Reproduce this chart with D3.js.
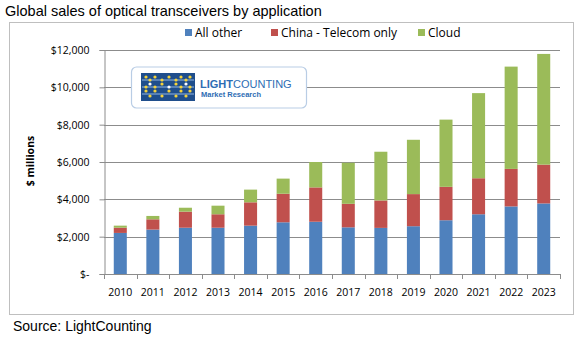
<!DOCTYPE html>
<html>
<head>
<meta charset="utf-8">
<script src="https://cdn.jsdelivr.net/npm/d3@7"></script>
<style>
  body { margin: 0; background: #fff; }
  svg { display: block; }
</style>
</head>
<body>
<svg id="chart" width="579" height="338"></svg>
<script>
const years = ['2010', '2011', '2012', '2013', '2014', '2015', '2016',
  '2017', '2018', '2019', '2020', '2021', '2022', '2023'];
const allOther = [2200, 2380, 2480, 2480, 2590, 2770, 2800, 2500, 2470, 2560, 2880, 3200, 3620, 3780];
const chinaTelecom = [280, 550, 860, 720, 1250, 1530, 1840, 1260, 1470, 1720, 1790, 1930, 2010, 2080];
const cloud = [110, 180, 210, 460, 680, 810, 1360, 2200, 2610, 2910, 3600, 4560, 5480, 5930];
const seriesNames = ['All other', 'China - Telecom only', 'Cloud'];
const yTicks = [0, 2000, 4000, 6000, 8000, 10000, 12000];

const colors = ['#4F81BD', '#C0504D', '#9BBB59'];
const tickFont = 'Open Sans, Noto Sans, sans-serif';

const svg = d3.select('#chart');

const plot = { left: 104, right: 560, top: 50, bottom: 274 };

const rows = years.map((y, i) => ({
  year: y,
  'All other': allOther[i],
  'China - Telecom only': chinaTelecom[i],
  'Cloud': cloud[i]
}));
const stacked = d3.stack().keys(seriesNames)(rows);

const x = d3.scaleBand()
  .domain(years)
  .range([plot.left, plot.right])
  .paddingInner(0.6)
  .paddingOuter(0.3);

const y = d3.scaleLinear()
  .domain([0, 12000])
  .range([plot.bottom, plot.top]);

// Title
svg.append('text')
  .attr('x', 5).attr('y', 16)
  .attr('font-family', 'Liberation Sans, Arial, sans-serif')
  .attr('font-size', 14.5)
  .attr('fill', '#000')
  .text('Global sales of optical transceivers by application');

// Frame
svg.append('rect')
  .attr('x', 9.5).attr('y', 22.5)
  .attr('width', 564).attr('height', 292)
  .attr('fill', '#fff')
  .attr('stroke', '#BFBFBF');

// Gridlines
svg.append('g')
  .selectAll('line')
  .data(yTicks.filter(d => d > 0))
  .join('line')
  .attr('x1', plot.left).attr('x2', plot.right)
  .attr('y1', d => Math.round(y(d)) + 0.5)
  .attr('y2', d => Math.round(y(d)) + 0.5)
  .attr('stroke', '#8C8C8C');

// Y axis
const yAxis = svg.append('g')
  .attr('transform', `translate(${plot.left + 0.5},0)`)
  .call(d3.axisLeft(y)
    .tickValues(yTicks)
    .tickSize(5)
    .tickPadding(10)
    .tickFormat(d => d === 0 ? '$-' : '$' + d3.format(',')(d)));
yAxis.select('.domain').attr('stroke', '#8C8C8C');
yAxis.selectAll('.tick line').attr('stroke', '#8C8C8C');
yAxis.selectAll('.tick text')
  .attr('font-family', tickFont)
  .attr('font-size', 10.5)
  .attr('fill', '#000');

// Y axis title
svg.append('text')
  .attr('transform', 'translate(34,161) rotate(-90)')
  .attr('text-anchor', 'middle')
  .attr('font-family', tickFont)
  .attr('font-weight', 'bold')
  .attr('font-size', 10.5)
  .text('$ millions');

// Bars
svg.append('g')
  .selectAll('g')
  .data(stacked)
  .join('g')
  .attr('fill', (d, i) => colors[i])
  .selectAll('rect')
  .data(d => d)
  .join('rect')
  .attr('x', d => x(d.data.year))
  .attr('y', d => y(d[1]))
  .attr('width', x.bandwidth())
  .attr('height', d => y(d[0]) - y(d[1]));

// X axis line and tick marks between categories
const xg = svg.append('g');
xg.append('line')
  .attr('x1', plot.left).attr('x2', plot.right)
  .attr('y1', plot.bottom + 0.5).attr('y2', plot.bottom + 0.5)
  .attr('stroke', '#8C8C8C');
const step = x.step();
xg.selectAll('.xt')
  .data(d3.range(years.length + 1))
  .join('line')
  .attr('class', 'xt')
  .attr('x1', i => Math.round(plot.left + i * step) + 0.5)
  .attr('x2', i => Math.round(plot.left + i * step) + 0.5)
  .attr('y1', plot.bottom)
  .attr('y2', plot.bottom + 5)
  .attr('stroke', '#8C8C8C');
xg.selectAll('text')
  .data(years)
  .join('text')
  .attr('x', d => x(d) + x.bandwidth() / 2)
  .attr('y', plot.bottom + 22)
  .attr('text-anchor', 'middle')
  .attr('font-family', tickFont)
  .attr('font-size', 10.5)
  .text(d => d);

// Legend
const legendX = [185, 271, 418];
const legend = svg.append('g')
  .selectAll('g')
  .data(seriesNames)
  .join('g')
  .attr('transform', (d, i) => `translate(${legendX[i]},34)`);
legend.append('rect')
  .attr('x', 0).attr('y', -5)
  .attr('width', 7).attr('height', 7)
  .attr('fill', (d, i) => colors[i]);
legend.append('text')
  .attr('x', 10).attr('y', 3)
  .attr('font-family', tickFont)
  .attr('font-size', 12)
  .text(d => d);

// LightCounting logo
const logo = svg.append('g');
logo.append('rect')
  .attr('x', 131.5).attr('y', 67)
  .attr('width', 175).attr('height', 41)
  .attr('rx', 5)
  .attr('fill', '#fff')
  .attr('stroke', '#B9CDE5')
  .attr('stroke-width', 1.2);
logo.append('rect')
  .attr('x', 141).attr('y', 73)
  .attr('width', 54).attr('height', 28)
  .attr('fill', '#1F4E8C');
[80, 87, 94].forEach(ly => {
  logo.append('line')
    .attr('x1', 142).attr('x2', 194)
    .attr('y1', ly).attr('y2', ly)
    .attr('stroke', '#8FB4E3')
    .attr('stroke-width', 1);
});
const dotCols = [146, 150, 155, 162, 169, 176, 181, 186, 190];
const dotRows = [[77, 80], [84, 87], [91, 96]];
dotCols.forEach((cx, ci) => {
  dotRows.forEach((r, ri) => {
    const cy = (ci + ri) % 2 === 0 ? r[0] : r[1];
    logo.append('circle')
      .attr('cx', cx).attr('cy', cy)
      .attr('r', 1.6)
      .attr('fill', ri === 1 && ci % 3 === 1 ? '#fff' : '#F5D33A');
  });
});
const lt = logo.append('text')
  .attr('x', 200).attr('y', 88)
  .attr('font-family', 'Liberation Sans, Arial, sans-serif')
  .attr('font-size', 11)
  .attr('fill', '#2E6DB4');
lt.append('tspan').attr('font-weight', 'bold').text('LIGHT');
lt.append('tspan').text('COUNTING');
logo.append('text')
  .attr('x', 201).attr('y', 97)
  .attr('font-family', 'Liberation Sans, Arial, sans-serif')
  .attr('font-size', 7.5)
  .attr('font-weight', 'bold')
  .attr('fill', '#2E6DB4')
  .text('Market Research');

// Source
svg.append('text')
  .attr('x', 13).attr('y', 331)
  .attr('font-family', 'Liberation Sans, Arial, sans-serif')
  .attr('font-size', 14)
  .text('Source: LightCounting');
</script>
</body>
</html>
